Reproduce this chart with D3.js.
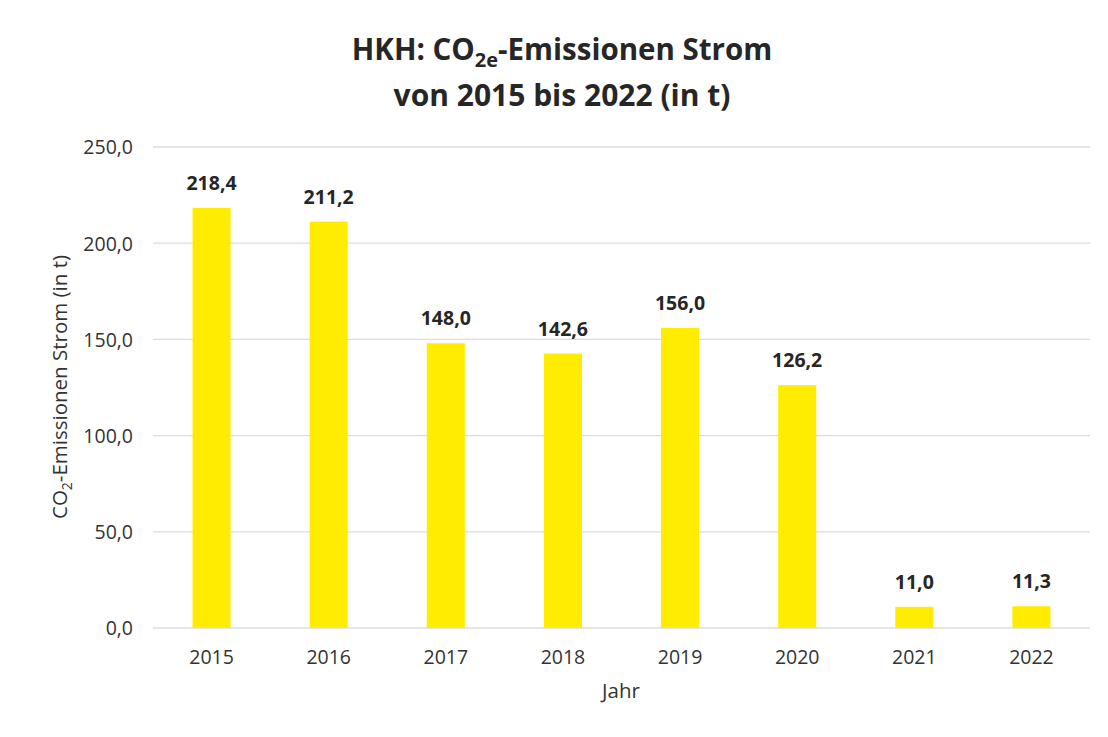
<!DOCTYPE html>
<html lang="de">
<head>
<meta charset="utf-8">
<title>HKH CO2e Strom</title>
<script type="text/javascript" src="https://d3js.org/d3.v7.min.js"></script>
<style>
  body { margin: 0; background: white; }
  text { font-family: "Open Sans", "Noto Sans", sans-serif; }
</style>
</head>
<body>
<div id="container"></div>
<script type="text/javascript">

// data
var years = ["2015", "2016", "2017", "2018", "2019", "2020", "2021", "2022"];
var emissions = [218.4, 211.2, 148.0, 142.6, 156.0, 126.2, 11.0, 11.3];
var yTicks = [0, 50, 100, 150, 200, 250];

// layout
var w = 1108;
var h = 737;
var margin = {top: 147, right: 18, bottom: 109, left: 153};

var de = d3.formatLocale({decimal: ",", thousands: ".", grouping: [3], currency: ["", " €"]});
var fmt = de.format(".1f");

var svg = d3.select("div#container").append("svg")
    .attr("width", w)
    .attr("height", h)
    .style("background", "white");

var x = d3.scaleBand()
    .domain(years)
    .range([margin.left, w - margin.right])
    .paddingInner(0.675)
    .paddingOuter(0.3375);

var y = d3.scaleLinear()
    .domain([0, 250])
    .range([h - margin.bottom, margin.top]);

// gridlines
svg.append("g")
    .selectAll("line")
    .data(yTicks)
    .enter()
    .append("line")
    .attr("x1", margin.left)
    .attr("x2", w - margin.right)
    .attr("y1", function(d) { return y(d); })
    .attr("y2", function(d) { return y(d); })
    .attr("stroke", "#dcdcdc")
    .attr("stroke-width", 1.3);

// y axis
var yAxis = svg.append("g")
    .attr("transform", "translate(" + (margin.left - 17) + ",0)")
    .call(d3.axisLeft(y).tickValues(yTicks).tickFormat(fmt).tickSize(0));
yAxis.select(".domain").remove();
yAxis.selectAll("text")
    .attr("fill", "#333")
    .style("font-size", "19.5px")
    .attr("dy", "0.35em");

// x axis
var xAxis = svg.append("g")
    .attr("transform", "translate(0," + (h - margin.bottom) + ")")
    .call(d3.axisBottom(x).tickSize(0));
xAxis.select(".domain").remove();
xAxis.selectAll("text")
    .attr("fill", "#333")
    .style("font-size", "19.5px")
    .attr("y", 22)
    .attr("dy", "0.71em");

// bars
svg.selectAll("rect.bar")
    .data(emissions)
    .enter()
    .append("rect")
    .attr("class", "bar")
    .attr("x", function(d, i) { return x(years[i]); })
    .attr("y", function(d) { return y(d); })
    .attr("width", x.bandwidth())
    .attr("height", function(d) { return y(0) - y(d); })
    .attr("fill", "#ffec00");

// value labels
svg.selectAll("text.val")
    .data(emissions)
    .enter()
    .append("text")
    .attr("class", "val")
    .attr("x", function(d, i) { return x(years[i]) + x.bandwidth() / 2; })
    .attr("y", function(d) { return y(d) - 18; })
    .attr("text-anchor", "middle")
    .attr("fill", "#262626")
    .style("font-size", "19.5px")
    .style("font-weight", "bold")
    .text(function(d) { return fmt(d); });

// title
var title = svg.append("text")
    .attr("x", 562)
    .attr("y", 60)
    .attr("text-anchor", "middle")
    .attr("fill", "#262626")
    .style("font-size", "29.5px")
    .style("font-weight", "bold");
title.append("tspan").text("HKH: CO");
title.append("tspan").attr("dy", 7).style("font-size", "20px").text("2e");
title.append("tspan").attr("dy", -7).text("-Emissionen Strom");

svg.append("text")
    .attr("x", 562)
    .attr("y", 106)
    .attr("text-anchor", "middle")
    .attr("fill", "#262626")
    .style("font-size", "30px")
    .style("font-weight", "bold")
    .text("von 2015 bis 2022 (in t)");

// y axis title
var yTitle = svg.append("text")
    .attr("transform", "translate(67," + 387 + ") rotate(-90)")
    .attr("text-anchor", "middle")
    .attr("fill", "#333")
    .style("font-size", "20.5px");
yTitle.append("tspan").text("CO");
yTitle.append("tspan").attr("dy", 5).style("font-size", "14px").text("2");
yTitle.append("tspan").attr("dy", -5).text("-Emissionen Strom (in t)");

// x axis title
svg.append("text")
    .attr("x", 621)
    .attr("y", 698)
    .attr("text-anchor", "middle")
    .attr("fill", "#333")
    .style("font-size", "20.5px")
    .text("Jahr");

</script>
</body>
</html>
